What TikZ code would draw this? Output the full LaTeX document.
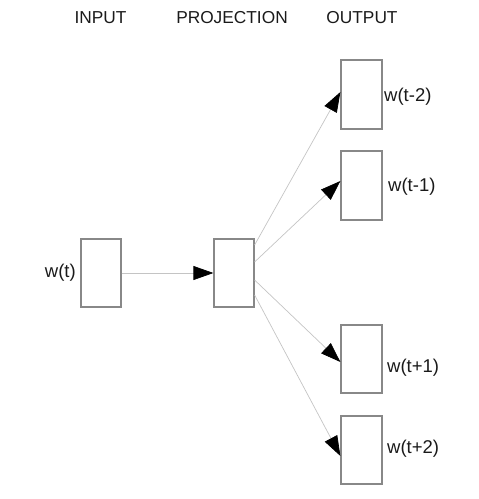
\documentclass[tikz,border=0pt]{standalone}
\usepackage{fontspec}
\setmainfont{Liberation Sans}
\usetikzlibrary{arrows.meta}
\definecolor{boxgray}{HTML}{888888}
\definecolor{linegray}{HTML}{C4C4C4}
\definecolor{txt}{HTML}{1A1A1A}
\tikzset{
  unit/.style={draw=boxgray, line width=1.2pt, fill=white, inner sep=0pt,
    minimum width=40pt, minimum height=68pt},
  conn/.style={draw=linegray, line width=0.7pt,
    -{Triangle[length=20pt,width=14pt,fill=black,color=black]}},
  lbl/.style={font=\fontsize{17.3pt}{20pt}\selectfont, text=txt, inner sep=0pt},
  wlbl/.style={font=\fontsize{18.5pt}{21pt}\selectfont, text=txt, inner sep=0pt}
}
\begin{document}
\begin{tikzpicture}[x=1pt,y=-1pt]
\useasboundingbox (0,0) rectangle (479,499);
% headings
\node[lbl] (hin) at (100.5,18) {INPUT};
\node[lbl] (hproj) at (232,18) {PROJECTION};
\node[lbl] (hout) at (362,18) {OUTPUT};
% boxes
\node[unit] (in) at (101,273) {};
\node[unit] (proj) at (234,273) {};
\node[unit, minimum height=69pt, minimum width=41pt] (o1) at (361.5,94.5) {};
\node[unit, minimum height=69pt, minimum width=41pt] (o2) at (361.5,185.5) {};
\node[unit, minimum width=41pt] (o3) at (361.5,359) {};
\node[unit, minimum width=41pt] (o4) at (361.5,450) {};
% connectors
\draw[conn] (in.east) -- (proj.west);
\draw[conn] ([yshift=28pt]proj.east) -- ([yshift=2.5pt]o1.west);
\draw[conn] ([yshift=11pt]proj.east) -- ([yshift=4.5pt]o2.west);
\draw[conn] ([yshift=-7pt]proj.east) -- ([yshift=-3pt]o3.west);
\draw[conn] ([yshift=-22pt]proj.east) -- ([yshift=-6pt]o4.west);
% labels
\node[wlbl, anchor=east] (lin) at (76,273) {w(t)};
\node[wlbl, anchor=west] (l1) at (384,97) {w(t-2)};
\node[wlbl, anchor=west] (l2) at (388,187) {w(t-1)};
\node[wlbl, anchor=west] (l3) at (387,368) {w(t+1)};
\node[wlbl, anchor=west] (l4) at (387,449) {w(t+2)};
\end{tikzpicture}
\end{document}
